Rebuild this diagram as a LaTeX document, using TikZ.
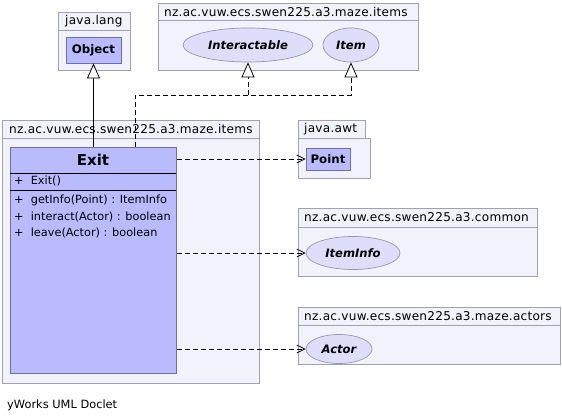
\documentclass[tikz,border=0pt]{standalone}
\usepackage{fontspec}
\setmainfont{DejaVu Sans}
\newfontfamily\pkgfont{DejaVu Sans}[LetterSpace=2]
\usetikzlibrary{arrows.meta,shapes.geometric}

\definecolor{pkgfill}{RGB}{242,242,252}
\definecolor{pkgdraw}{RGB}{160,160,182}
\definecolor{clsfill}{RGB}{186,186,255}
\definecolor{clsdraw}{RGB}{112,112,165}
\definecolor{ifcfill}{RGB}{222,222,250}
\definecolor{ifcdraw}{RGB}{150,150,175}

\tikzset{
  x=1pt, y=-1pt,
  pkgbox/.style={draw=pkgdraw, fill=pkgfill, line width=0.9pt, inner sep=0pt, anchor=north west},
  pkgtext/.style={anchor=west, inner sep=0pt, font=\pkgfont\fontsize{12.1}{14}\selectfont},
  clsbox/.style={draw=clsdraw, fill=clsfill, line width=0.9pt, inner sep=0pt, font=\bfseries\fontsize{11.8}{13}\selectfont},
  ifcbox/.style={ellipse, draw=ifcdraw, fill=ifcfill, line width=0.7pt, inner sep=0pt, font=\bfseries\itshape\fontsize{11.6}{13}\selectfont},
  member/.style={anchor=west, inner sep=0pt, font=\fontsize{11.3}{13}\selectfont},
  hollowtip/.style={-{Triangle[open, length=15pt, width=13pt, fill=white]}},
  inherit/.style={line width=0.8pt, hollowtip},
  realize/.style={line width=0.8pt, dash pattern=on 5pt off 3pt},
  depend/.style={line width=0.8pt, dash pattern=on 5pt off 3pt, -{Straight Barb[length=8pt, width=8pt]}},
}

\begin{document}
\begin{tikzpicture}

\useasboundingbox (0,0) rectangle (562,420);

% packages
\node[pkgbox, minimum width=72, minimum height=58] (langpkg) at (58,12) {};
\draw[pkgdraw, line width=0.9pt] (58,30) -- (130,30);
\node[pkgtext] (langlbl) at (65,21) {java.lang};

\node[pkgbox, minimum width=260, minimum height=67] (toppkg) at (158,3) {};
\draw[pkgdraw, line width=0.9pt] (158,20) -- (418,20);
\node[pkgtext] (toplbl) at (164,12) {nz.ac.vuw.ecs.swen225.a3.maze.items};

\node[pkgbox, minimum width=257, minimum height=263] (mainpkg) at (2,120) {};
\draw[pkgdraw, line width=0.9pt] (2,138) -- (259,138);
\node[pkgtext] (mainlbl) at (9,129) {nz.ac.vuw.ecs.swen225.a3.maze.items};

\node[pkgbox, minimum width=67, minimum height=18] (awttab) at (298,120) {};
\node[pkgbox, minimum width=72, minimum height=40] (awtpkg) at (298,138) {};
\node[pkgtext] (awtlbl) at (304,129) {java.awt};

\node[pkgbox, minimum width=239, minimum height=68] (commonpkg) at (298,208) {};
\draw[pkgdraw, line width=0.9pt] (298,227) -- (537,227);
\node[pkgtext] (commonlbl) at (304,217) {nz.ac.vuw.ecs.swen225.a3.common};

\node[pkgbox, minimum width=262, minimum height=57] (actorspkg) at (298,307) {};
\draw[pkgdraw, line width=0.9pt] (298,325) -- (560,325);
\node[pkgtext] (actorslbl) at (304,316) {nz.ac.vuw.ecs.swen225.a3.maze.actors};

% classes and interfaces
\node[clsbox, minimum width=55, minimum height=26] (object) at (93.5,50) {Object};
\node[clsbox, minimum width=44, minimum height=22] (point) at (328,159) {Point};
\node[ifcbox, minimum width=130, minimum height=34] (interactable) at (248,45) {Interactable};
\node[ifcbox, minimum width=56, minimum height=34] (item) at (351,45) {Item};
\node[ifcbox, minimum width=94, minimum height=33] (iteminfo) at (353,253) {ItemInfo};
\node[ifcbox, minimum width=66, minimum height=29] (actor) at (339,349) {Actor};

% the Exit class
\node[clsbox, anchor=north west, minimum width=166, minimum height=226] (exit) at (10,147) {};
\node[inner sep=0pt, font=\bfseries\fontsize{15}{17}\selectfont] (exitname) at (93,160) {Exit};
\draw[line width=0.9pt] (10,173) -- (176,173);
\draw[line width=0.9pt] (10,190) -- (176,190);
\node[member] (ctor) at (14,181) {+\ \ Exit()};
\node[member] (getinfo) at (14,200) {+\ \ getInfo(Point) : ItemInfo};
\node[member] (interact) at (14,217) {+\ \ interact(Actor) : boolean};
\node[member] (leave) at (14,233) {+\ \ leave(Actor) : boolean};

% connectors
\draw[inherit] (exit.north -| object.south) -- (object.south);
\coordinate (bend) at (135,95);
\draw[realize, hollowtip] (exit.north -| bend) -- (bend) -| (item.south);
\draw[realize, hollowtip] (bend -| interactable.south) -- (interactable.south);
\draw[depend] (exit.east |- point.west) -- (point.west);
\draw[depend] (exit.east |- iteminfo.west) -- (iteminfo.west);
\draw[depend] (exit.east |- actor.west) -- (actor.west);

\node[anchor=west, inner sep=0pt, font=\fontsize{11.4}{13}\selectfont] (credit) at (7,405) {yWorks UML Doclet};

\end{tikzpicture}
\end{document}
